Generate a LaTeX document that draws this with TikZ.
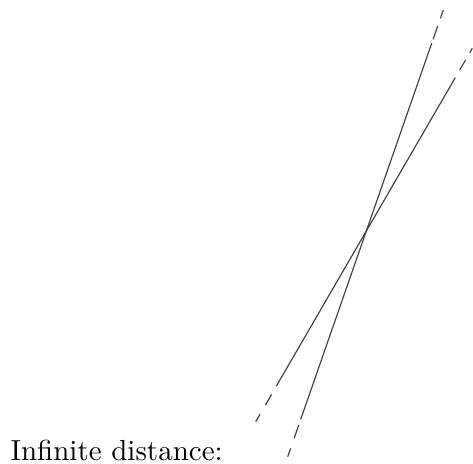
\documentclass[tikz,border=0pt]{standalone}
\usetikzlibrary{calc}
\begin{document}
\begin{tikzpicture}[x=0.3446pt,y=-0.3446pt,
  ln/.style={line width=0.4pt,black!75}]
\useasboundingbox (0,0) rectangle (473,463);
% line 1 (steeper)
\coordinate (a1) at (443.3,10);
\coordinate (b1) at (287.7,456.7);
% line 2
\coordinate (a2) at (472.3,48.3);
\coordinate (b2) at (255.7,421.7);
\foreach \s/\e in {0/0.0186,0.0358/0.0656,0.0745/0.9163,0.9290/0.9588,0.9812/1}
  \draw[ln] ($(a1)!\s!(b1)$) -- ($(a1)!\e!(b1)$);
\foreach \s/\e in {0/0.0118,0.0313/0.0581,0.0787/0.9041,0.9266/0.9553,0.9802/1}
  \draw[ln] ($(a2)!\s!(b2)$) -- ($(a2)!\e!(b2)$);
\node[anchor=base west,inner sep=0pt] (lbl) at (10,460) {Infinite distance:};
\end{tikzpicture}
\end{document}
